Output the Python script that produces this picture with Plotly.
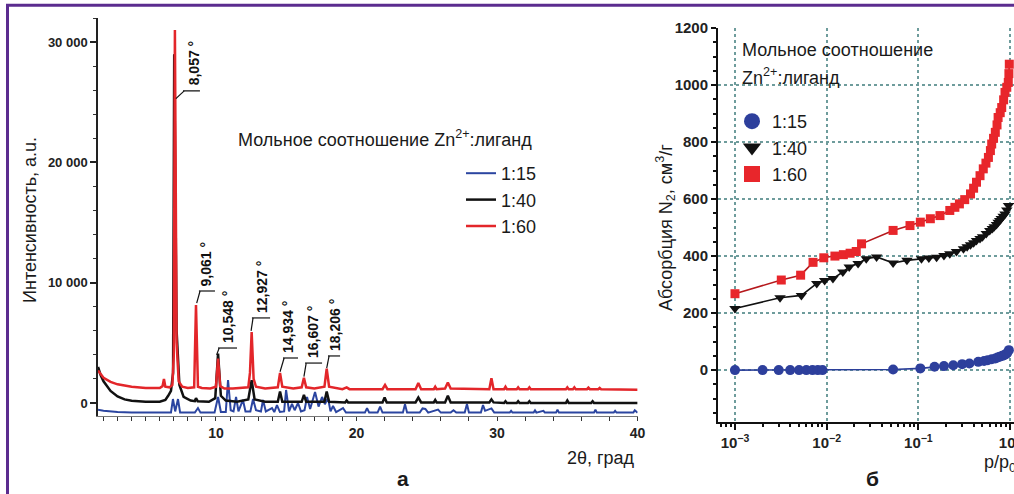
import plotly.graph_objects as go

W, H = 1014, 494
def px(x): return x / W
def py(y): return 1 - y / H

# ---------------- Panel a: XRD ----------------
tt_160 = [1.61, 2.0, 2.5, 3.0, 4.0, 5.0, 6.0, 6.2, 6.3, 6.4, 6.7, 6.9, 7.0, 7.08, 7.2, 7.35, 7.6, 8.0,
          8.45, 8.58, 8.72, 9.0, 9.6, 10.0, 10.15, 10.3, 10.6, 11.2, 12.3, 12.42, 12.54, 12.68, 12.85, 13.5,
          14.4, 14.56, 14.72, 15.5, 16.1, 16.26, 16.42, 17.0, 17.72, 17.88, 18.05, 19.0, 19.3, 19.5,
          21.85, 22.03, 22.2, 24.2, 24.4, 24.6, 25.5, 25.6, 25.7, 26.3, 26.5, 26.7, 29.45, 29.6, 29.75,
          30.5, 30.6, 30.7, 31.4, 31.5, 31.6, 32.2, 32.3, 32.4, 34.9, 35.0, 35.1, 35.4, 35.5, 35.6,
          36.4, 36.5, 36.6, 37.2, 37.3, 37.4, 40.0]
int_160 = [2700, 2100, 1750, 1550, 1350, 1250, 1250, 1400, 2000, 1350, 1300, 1500, 4000, 31000, 5000, 1800, 1350, 1250,
           1300, 8150, 1350, 1250, 1200, 1350, 3700, 1400, 1200, 1200, 1300, 2500, 5900, 2000, 1350, 1200,
           1300, 2500, 1350, 1200, 1300, 2100, 1300, 1200, 1350, 2850, 1350, 1150, 1300, 1150,
           1150, 1500, 1150, 1150, 1650, 1150, 1150, 1350, 1150, 1200, 1700, 1200, 1150, 2050, 1150,
           1150, 1350, 1150, 1150, 1300, 1150, 1150, 1300, 1150, 1150, 1300, 1150, 1150, 1300, 1150,
           1150, 1280, 1150, 1150, 1250, 1150, 1100]

tt_140 = [1.61, 1.8, 2.0, 2.5, 3.0, 3.5, 4.0, 5.0, 6.0, 6.4, 6.6, 6.8, 6.95, 7.03, 7.2, 7.4, 7.7, 8.2,
          8.5, 8.58, 8.7, 9.5, 9.95, 10.15, 10.35, 10.7, 11.5, 12.3, 12.54, 12.75, 13.5, 14.4, 14.56, 14.72,
          16.1, 16.26, 16.42, 17.72, 17.88, 18.05, 19.2, 19.3, 19.4, 21.85, 22.0, 22.15, 24.2, 24.4, 24.6,
          25.5, 25.6, 25.7, 26.3, 26.5, 26.7, 29.45, 29.6, 29.75, 30.5, 30.6, 30.7, 31.4, 31.5, 31.6,
          32.2, 32.3, 32.4, 34.9, 35.0, 35.1, 36.7, 36.8, 36.9, 40.0]
int_140 = [3000, 2300, 1800, 1000, 550, 300, 180, 100, 100, 250, 600, 1000, 2500, 29000, 6000, 1500, 500, 200,
           150, 400, 150, 100, 400, 4100, 600, 200, 100, 300, 1900, 300, 100, 100, 950, 100,
           100, 680, 100, 100, 950, 100, 50, 200, 50, 50, 450, 50, 50, 450, 50,
           50, 250, 50, 50, 600, 50, 50, 300, 50, 0, 150, 0, 0, 150, 0,
           0, 150, 0, 0, 200, 0, 0, 150, 0, 0]

tt_115 = [1.61, 2.0, 3.0, 4.0, 6.0, 6.8, 6.94, 7.1, 7.3, 7.45, 8.5, 8.72, 8.9, 9.9, 10.15, 10.35, 10.7, 10.86,
          11.05, 11.25, 11.43, 11.6, 11.92, 12.1, 12.45, 12.64, 12.85, 13.2, 13.35, 13.55, 13.99, 14.15, 14.34,
          14.55, 14.85, 14.99, 15.2, 15.41, 15.6, 15.84, 16.05, 16.3, 16.48, 16.7, 17.05, 17.3, 17.55, 17.75,
          17.97, 18.15, 18.33, 18.55, 19.04, 19.25, 20.6, 20.75, 20.9, 21.5, 21.68, 21.85, 23.3, 23.45, 23.6,
          24.5, 24.7, 24.9, 25.1, 25.8, 26.0, 26.7, 26.9, 27.1, 27.7, 27.86, 28.0, 28.85, 29.0, 29.15, 29.6,
          29.8, 30.9, 31.0, 31.1, 32.6, 32.7, 32.8, 33.3, 33.4, 34.2, 34.3, 34.4, 36.9, 37.0, 37.1, 38.3,
          38.4, 38.5, 39.7, 39.8, 40.0]
int_115 = [-550, -650, -750, -800, -800, -800, 330, -700, 330, -800, -800, -420, -800, -800, 500, -750, -750, 1900,
           -600, -700, 500, -700, 250, -700, -700, 330, -600, -700, 250, -700, -420, -750, -170,
           -750, -700, 1080, -700, -80, -600, 0, -700, -600, 500, -500, 910, -300, 500, -100,
           420, -700, -250, -750, -420, -800, -800, -420, -800, -800, -300, -800, -800, -100, -800,
           -800, -450, -500, -800, -550, -800, -800, -600, -800, -800, -80, -800, -800, -170, -650, -450,
           -800, -800, -650, -800, -800, -620, -800, -650, -800, -800, -550, -800, -800, -550, -800, -800,
           -650, -800, -800, -600, -800]

peak_labels = ["8,057 °", "9,061 °", "10,548 °", "12,927 °", "14,934 °", "16,607 °", "18,206 °"]
label_x = [8.44, 9.36, 10.86, 13.28, 15.13, 16.9, 18.47]          # text centre (2θ)
label_base = [26200, 9560, 4820, 7320, 3990, 3570, 4160]           # text foot (intensity)
bar_x0 = [7.66, 8.79, 10.15, 12.56, 14.77, 16.34, 17.97]
bar_x1 = [8.86, 9.93, 11.5, 13.85, 15.84, 17.55, 18.83]
lead_x = [7.15, 8.63, 10.05, 12.5, 14.56, 16.26, 17.88]            # peak top
lead_y = [25300, 8300, 4000, 6000, 2600, 2200, 2900]

# ---------------- Panel б: N2 isotherms ----------------
p_115 = [0.001, 0.002, 0.003, 0.004, 0.005, 0.006, 0.007, 0.008, 0.009, 0.053, 0.105, 0.15, 0.19,
         0.24, 0.30, 0.36, 0.45, 0.52, 0.57, 0.63, 0.69, 0.73, 0.77, 0.82, 0.86, 0.9, 0.93, 0.97]
v_115 = [0, 0, 0, 0, 0, 0, 0, 0, 0, 2, 6, 12, 14, 17, 21, 23, 29, 32, 35, 38, 41, 44, 47, 50, 52, 56, 60, 70]

p_140 = [0.001, 0.0031, 0.0053, 0.0078, 0.0095, 0.0117, 0.015, 0.0176, 0.022, 0.027, 0.035, 0.053,
         0.075, 0.108, 0.13, 0.158, 0.19, 0.22, 0.26, 0.31, 0.34, 0.37, 0.4, 0.43, 0.47, 0.5, 0.55, 0.6,
         0.64, 0.67, 0.71, 0.74, 0.77, 0.8, 0.84, 0.88, 0.92, 0.96]
v_140 = [216, 254, 262, 304, 314, 321, 344, 362, 374, 391, 397, 376, 385, 391, 393, 396, 402, 408,
         416, 426, 433, 440, 447, 455, 462, 468, 479, 490, 497, 503, 511, 519, 525, 532, 540, 548, 562, 577]

p_160 = [0.001, 0.0032, 0.0052, 0.0071, 0.0093, 0.0123, 0.0152, 0.018, 0.021, 0.024, 0.053, 0.081,
         0.105, 0.135, 0.172, 0.22, 0.25, 0.28, 0.32, 0.37, 0.40, 0.43, 0.47, 0.51, 0.545, 0.58, 0.61,
         0.63, 0.66, 0.69, 0.72, 0.74, 0.78, 0.81, 0.85, 0.88, 0.92, 0.955, 0.97, 0.98]
v_160 = [268, 316, 333, 378, 394, 400, 405, 410, 416, 443, 490, 507, 519, 531, 542, 560, 571, 583,
         598, 618, 638, 659, 682, 706, 726, 746, 770, 793, 813, 834, 860, 886, 903, 921, 948, 974, 992,
         1009, 1040, 1073]

series = ["1:15", "1:40", "1:60"]
colors = ["#2b45a0", "#111111", "#e3262a"]

FONT = "Arial, Liberation Sans, sans-serif"

fig = go.Figure()

# XRD traces
for name, xs, ys, c, w in [(series[0], tt_115, int_115, colors[0], 2),
                           (series[1], tt_140, int_140, colors[1], 2.5),
                           (series[2], tt_160, int_160, colors[2], 2.5)]:
    fig.add_trace(go.Scatter(x=xs, y=ys, mode="lines", name=name,
                             line=dict(color=c, width=w), xaxis="x", yaxis="y",
                             legend="legend"))

# isotherm traces
sym = ["circle", "triangle-down", "square"]
msz = [10, 10, 9]
mcol = ["#2d3f9c", "#111111", "#e8262b"]
lcol = ["#2b3f99", "#111111", "#b5181c"]
for i, (xs, ys) in enumerate([(p_115, v_115), (p_140, v_140), (p_160, v_160)]):
    fig.add_trace(go.Scatter(x=xs, y=ys, mode="lines+markers", showlegend=False,
                             line=dict(color=lcol[i], width=1.6),
                             marker=dict(symbol=sym[i], size=msz[i], color=mcol[i]),
                             xaxis="x2", yaxis="y2"))
for i in range(3):
    fig.add_trace(go.Scatter(x=[None], y=[None], mode="markers", name=series[i],
                             marker=dict(symbol=sym[i], size=16, color=mcol[i]),
                             xaxis="x2", yaxis="y2", legend="legend2"))

shapes = []
annotations = []

# peak labels
for t, lx, lb, b0, b1, ex, ey in zip(peak_labels, label_x, label_base, bar_x0, bar_x1, lead_x, lead_y):
    annotations.append(dict(x=lx, y=lb, xref="x", yref="y", text=f"<b>{t}</b>", textangle=-90,
                            showarrow=False, xanchor="center", yanchor="bottom",
                            font=dict(family=FONT, size=14, color="#111"), ))
    bar_y = lb - 250
    shapes.append(dict(type="line", xref="x", yref="y", x0=b0, x1=b1, y0=bar_y, y1=bar_y,
                       line=dict(color="#111", width=1.2)))
    shapes.append(dict(type="line", xref="x", yref="y", x0=b0 + 0.08, x1=ex, y0=bar_y, y1=ey,
                       line=dict(color="#111", width=1.2)))

# white box behind legend of panel б
shapes.append(dict(type="rect", xref="paper", yref="paper", x0=px(738), x1=px(948),
                   y0=py(190), y1=py(43), fillcolor="white", line=dict(width=0), layer="between"))

# purple frame
shapes.append(dict(type="line", xref="paper", yref="paper", x0=px(6), x1=1, y0=py(5.3), y1=py(5.3),
                   line=dict(color="#5b2c8f", width=3)))
shapes.append(dict(type="line", xref="paper", yref="paper", x0=px(7.5), x1=px(7.5), y0=0, y1=py(4),
                   line=dict(color="#5b2c8f", width=3)))

def ann(text, x, y, size=18, bold=False, angle=0, xa="center", ya="middle"):
    t = f"<b>{text}</b>" if bold else text
    annotations.append(dict(x=px(x), y=py(y), xref="paper", yref="paper", text=t, textangle=angle,
                            showarrow=False, xanchor=xa, yanchor=ya,
                            font=dict(family=FONT, size=size, color="#1a1a1a")))

ann("Интенсивность, a.u.", 30, 220, angle=-90)
ann("Мольное соотношение Zn<sup>2+</sup>:лиганд", 236, 138, xa="left")
ann("2θ, град", 601, 458)
ann("а", 403, 478, size=21, bold=True)
ann("Абсорбция N<sub>2</sub>, см<sup>3</sup>/г", 665, 228, angle=-90)
ann("Мольное соотношение", 740, 50, xa="left")
ann("Zn<sup>2+</sup>:лиганд", 740, 77, xa="left")
ann("p/p<sub>0</sub>", 982, 463, xa="left")
ann("б", 872, 478, size=21, bold=True)

xa_vals = list(range(2, 20)) + list(range(20, 41, 2))
xa_text = [str(v) if v % 10 == 0 else "" for v in xa_vals]

fig.update_layout(
    width=W, height=H, autosize=False,
    margin=dict(l=0, r=0, t=0, b=0, pad=0, autoexpand=False),
    paper_bgcolor="white", plot_bgcolor="rgba(0,0,0,0)",
    font=dict(family=FONT, color="#1a1a1a"),
    xaxis=dict(domain=[px(98), px(637.6)], range=[1.608, 40.0], anchor="y", automargin=False,
               tickmode="array", tickvals=xa_vals, ticktext=xa_text,
               ticks="outside", ticklen=4, tickwidth=1, tickcolor="#333",
               showline=True, linecolor="#777", linewidth=1, showgrid=False, zeroline=False,
               tickfont=dict(family=FONT, size=14, color="#222", weight="bold")),
    yaxis=dict(domain=[py(416), py(18)], range=[-1081, 32003], anchor="x", automargin=False,
               tickmode="array", tickvals=[0, 10000, 20000, 30000],
               ticktext=["0", "10 000", "20 000", "30 000"],
               ticks="outside", ticklen=6, tickwidth=1.5, tickcolor="#222",
               minor=dict(dtick=2000, tick0=0, ticks="outside", ticklen=3, tickwidth=1.2, tickcolor="#333"),
               showline=True, linecolor="#222", linewidth=1.5, showgrid=False, zeroline=False,
               tickfont=dict(family=FONT, size=13, color="#222", weight="bold")),
    xaxis2=dict(domain=[px(718), 1.0], type="log", range=[-3.185, 0.0425], anchor="y2", automargin=False,
                tickmode="array", tickvals=[0.001, 0.01, 0.1, 1],
                ticktext=["10<sup>−3</sup>", "10<sup>−2</sup>", "10<sup>−1</sup>", "10<sup>0</sup>"],
                ticklabeloverflow="allow",
                ticks="outside", ticklen=6, tickwidth=2, tickcolor="#111",
                minor=dict(ticks="outside", ticklen=3, tickwidth=1.5, dtick="D1", tickcolor="#111", showgrid=False),
                showline=True, linecolor="#111", linewidth=2,
                showgrid=True, gridcolor="#6e9c9c", griddash="dot", gridwidth=1.5, zeroline=False,
                tickfont=dict(family=FONT, size=15, color="#222", weight="bold")),
    yaxis2=dict(domain=[py(422), py(28)], range=[-182, 1200], anchor="x2", automargin=False,
                tickmode="array", tickvals=[0, 200, 400, 600, 800, 1000, 1200],
                ticks="outside", ticklen=5, tickwidth=2, tickcolor="#111",
                minor=dict(dtick=50, tick0=0, ticks="outside", ticklen=3, tickwidth=1.5, tickcolor="#111", showgrid=False),
                showline=True, linecolor="#111", linewidth=2,
                showgrid=True, gridcolor="#6e9c9c", griddash="dot", gridwidth=1.5, zeroline=False,
                tickfont=dict(family=FONT, size=15, color="#222", weight="bold")),
    legend=dict(x=px(461), y=py(155), xanchor="left", yanchor="top", bgcolor="rgba(0,0,0,0)",
                font=dict(family=FONT, size=18, color="#1a1a1a"), itemwidth=30, tracegroupgap=0),
    legend2=dict(x=px(732), y=py(103), xanchor="left", yanchor="top", bgcolor="rgba(0,0,0,0)",
                 font=dict(family=FONT, size=18, color="#1a1a1a"), itemwidth=30, tracegroupgap=0),
    shapes=shapes, annotations=annotations,
)

fig.write_html("out.html", config={"displayModeBar": False},
               post_script="document.body.style.margin='0';document.body.style.overflow='hidden';")
